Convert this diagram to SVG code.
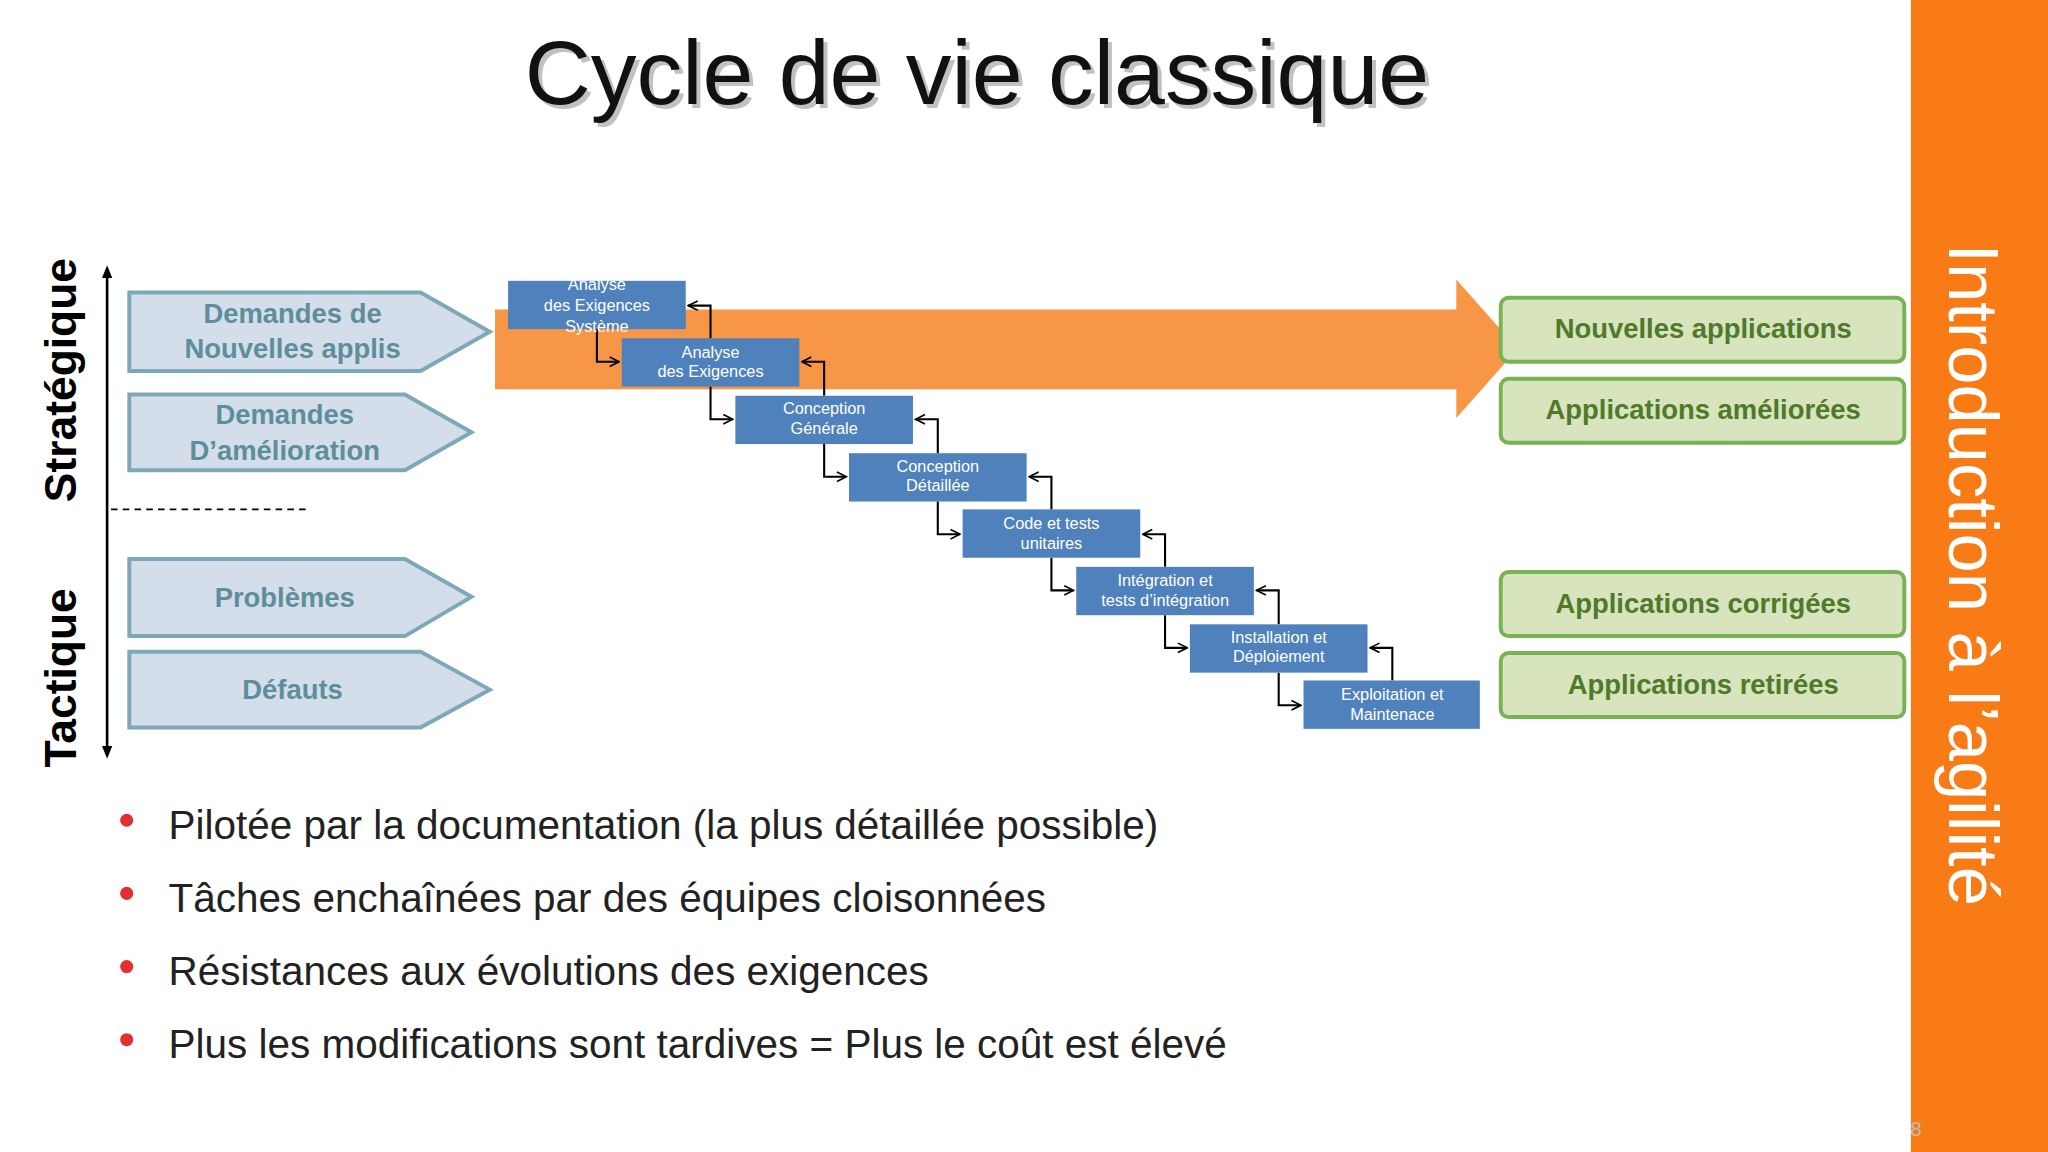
<svg xmlns="http://www.w3.org/2000/svg" width="2048" height="1152" viewBox="0 0 2048 1152">
<defs>
<style>
.pent{fill:#D3DEEA;stroke:#7FA8B6;stroke-width:3}
.pt{font-family:"Liberation Sans",Arial,sans-serif;font-weight:bold;font-size:21px;fill:#5E8E9C;text-anchor:middle}
.blue{fill:#4F81BD}
.bt{font-family:"Liberation Sans",Arial,sans-serif;font-size:12.5px;fill:#fff;text-anchor:middle}
.green{fill:#D7E4BD;stroke:#77B255;stroke-width:3}
.gt{font-family:"Liberation Sans",Arial,sans-serif;font-weight:bold;font-size:21px;fill:#4E7A2A;text-anchor:middle}
.bul{font-family:"Liberation Sans",Arial,sans-serif;font-size:31px;fill:#222}
.conn{fill:none;stroke:#000;stroke-width:1.6}
</style>
<marker id="ch" viewBox="0 0 10 10" refX="9" refY="5" markerWidth="9" markerHeight="9" orient="auto" markerUnits="userSpaceOnUse">
<path d="M1,1 L9,5 L1,9" fill="none" stroke="#000" stroke-width="1.4"/>
</marker>
<marker id="ah" viewBox="0 0 10 10" refX="5" refY="5" markerWidth="10" markerHeight="10" orient="auto-start-reverse" markerUnits="userSpaceOnUse">
<path d="M0,1 L10,5 L0,9 Z" fill="#000"/>
</marker>
</defs>
<rect width="2048" height="1152" fill="#fff"/>
<g transform="scale(1.30612)">
<g id="title">
<text x="751" y="83" font-family="'Liberation Sans',Arial,sans-serif" font-size="70" fill="#999" text-anchor="middle" opacity="0.6">Cycle de vie classique</text>
<text x="748" y="80" font-family="'Liberation Sans',Arial,sans-serif" font-size="70" fill="#111" text-anchor="middle">Cycle de vie classique</text>
</g>
<g id="sidebar">
<rect x="1463" y="0" width="105" height="882" fill="#F97B16"/>
<text transform="translate(1492,440) rotate(90)" font-family="'Liberation Sans',Arial,sans-serif" font-size="54" fill="#fff" text-anchor="middle">Introduction à l’agilité</text>
<text x="1467" y="870" font-family="'Liberation Sans',Arial,sans-serif" font-size="16" fill="#bbb" text-anchor="middle">8</text>
</g>
<g id="axis">
<line x1="82" y1="208" x2="82" y2="576" stroke="#000" stroke-width="2" marker-start="url(#ah)" marker-end="url(#ah)"/>
<line x1="85" y1="390" x2="238" y2="390" stroke="#000" stroke-width="1.5" stroke-dasharray="5,4"/>
<text transform="translate(58,291) rotate(-90)" font-family="'Liberation Sans',Arial,sans-serif" font-weight="bold" font-size="34" fill="#000" text-anchor="middle">Stratégique</text>
<text transform="translate(58,519) rotate(-90)" font-family="'Liberation Sans',Arial,sans-serif" font-weight="bold" font-size="34" fill="#000" text-anchor="middle">Tactique</text>
</g>
<g id="in1"><path class="pent" d="M99,224 H322 L375,254 L322,284 H99 Z"/><text class="pt" x="224" y="247">Demandes de</text><text class="pt" x="224" y="274">Nouvelles applis</text></g>
<g id="in2"><path class="pent" d="M99,302 H310 L361,331 L310,360 H99 Z"/><text class="pt" x="218" y="325">Demandes</text><text class="pt" x="218" y="352">D’amélioration</text></g>
<g id="in3"><path class="pent" d="M99,428 H310 L361,457 L310,487 H99 Z"/><text class="pt" x="218" y="465">Problèmes</text></g>
<g id="in4"><path class="pent" d="M99,499 H322 L375,528 L322,557 H99 Z"/><text class="pt" x="224" y="535">Défauts</text></g>
<g id="bigarrow"><path d="M379,237 H1115 V214 L1162,267 L1115,320 V298 H379 Z" fill="#F79646"/></g>
<g id="connectors">
<path class="conn" d="M457,252 V277 H474" marker-end="url(#ch)"/>
<path class="conn" d="M544,296 V321 H561" marker-end="url(#ch)"/>
<path class="conn" d="M631,340 V365 H648" marker-end="url(#ch)"/>
<path class="conn" d="M718,384 V409 H735" marker-end="url(#ch)"/>
<path class="conn" d="M805,427 V452 H822" marker-end="url(#ch)"/>
<path class="conn" d="M892,471 V496 H909" marker-end="url(#ch)"/>
<path class="conn" d="M979,515 V540 H996" marker-end="url(#ch)"/>
<path class="conn" d="M544,259 V234 H527" marker-end="url(#ch)"/>
<path class="conn" d="M631,303 V277 H614" marker-end="url(#ch)"/>
<path class="conn" d="M718,347 V321 H701" marker-end="url(#ch)"/>
<path class="conn" d="M805,390 V365 H788" marker-end="url(#ch)"/>
<path class="conn" d="M892,434 V409 H875" marker-end="url(#ch)"/>
<path class="conn" d="M979,478 V452 H962" marker-end="url(#ch)"/>
<path class="conn" d="M1066,521 V496 H1049" marker-end="url(#ch)"/>
</g>
<g id="s1"><rect class="blue" x="389" y="215" width="136" height="37"/><text class="bt" x="457" y="222">Analyse</text><text class="bt" x="457" y="238">des Exigences</text><text class="bt" x="457" y="254">Système</text></g>
<g id="s2"><rect class="blue" x="476" y="259" width="136" height="37"/><text class="bt" x="544" y="274">Analyse</text><text class="bt" x="544" y="289">des Exigences</text></g>
<g id="s3"><rect class="blue" x="563" y="303" width="136" height="37"/><text class="bt" x="631" y="317">Conception</text><text class="bt" x="631" y="332">Générale</text></g>
<g id="s4"><rect class="blue" x="650" y="347" width="136" height="37"/><text class="bt" x="718" y="361">Conception</text><text class="bt" x="718" y="376">Détaillée</text></g>
<g id="s5"><rect class="blue" x="737" y="390" width="136" height="37"/><text class="bt" x="805" y="405">Code et tests</text><text class="bt" x="805" y="420">unitaires</text></g>
<g id="s6"><rect class="blue" x="824" y="434" width="136" height="37"/><text class="bt" x="892" y="449">Intégration et</text><text class="bt" x="892" y="464">tests d’intégration</text></g>
<g id="s7"><rect class="blue" x="911" y="478" width="136" height="37"/><text class="bt" x="979" y="492">Installation et</text><text class="bt" x="979" y="507">Déploiement</text></g>
<g id="s8"><rect class="blue" x="998" y="521" width="135" height="37"/><text class="bt" x="1066" y="536">Exploitation et</text><text class="bt" x="1066" y="551">Maintenace</text></g>
<g id="o1"><rect class="green" x="1149" y="228" width="309" height="49" rx="6"/><text class="gt" x="1304" y="259">Nouvelles applications</text></g>
<g id="o2"><rect class="green" x="1149" y="290" width="309" height="49" rx="6"/><text class="gt" x="1304" y="321">Applications améliorées</text></g>
<g id="o3"><rect class="green" x="1149" y="438" width="309" height="49" rx="6"/><text class="gt" x="1304" y="469">Applications corrigées</text></g>
<g id="o4"><rect class="green" x="1149" y="500" width="309" height="49" rx="6"/><text class="gt" x="1304" y="531">Applications retirées</text></g>
<g id="bullets">
<circle cx="97" cy="628" r="5" fill="#E03030"/><text class="bul" x="129" y="642">Pilotée par la documentation (la plus détaillée possible)</text>
<circle cx="97" cy="684" r="5" fill="#E03030"/><text class="bul" x="129" y="698">Tâches enchaînées par des équipes cloisonnées</text>
<circle cx="97" cy="740" r="5" fill="#E03030"/><text class="bul" x="129" y="754">Résistances aux évolutions des exigences</text>
<circle cx="97" cy="796" r="5" fill="#E03030"/><text class="bul" x="129" y="810">Plus les modifications sont tardives = Plus le coût est élevé</text>
</g>
</g>
</svg>
